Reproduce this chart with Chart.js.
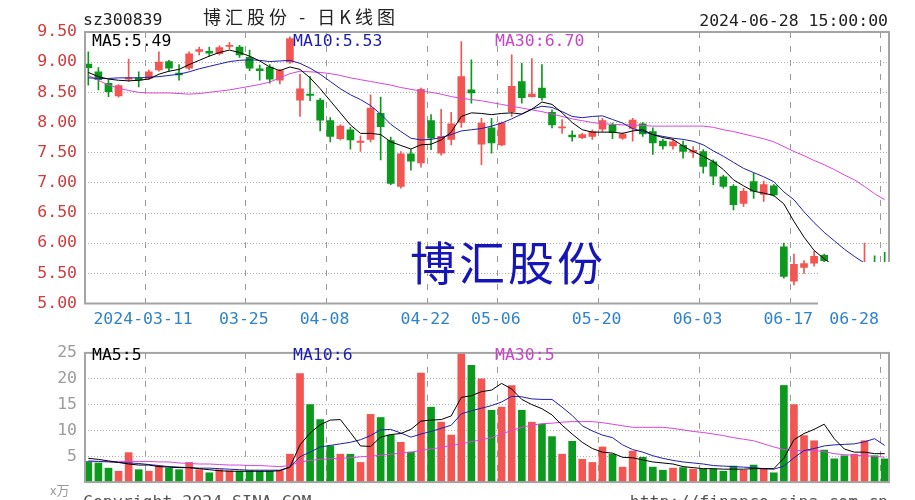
<!DOCTYPE html>
<html>
<head>
<meta charset="utf-8">
<title>sz300839 博汇股份 日K线图</title>
<script src="https://cdn.jsdelivr.net/npm/chart.js@4.4.1/dist/chart.umd.min.js"></script>
<style>
  body { margin: 0; background: #fff; }
  #wrap { position: relative; width: 915px; height: 500px; overflow: hidden; background: #fff; }
  canvas { position: absolute; left: 0; }
  .t { position: absolute; white-space: nowrap; font-family: "DejaVu Sans Mono", monospace; font-size: 16.5px; line-height: 1; }
</style>
</head>
<body>
<div id="wrap">
  <canvas id="kline" width="915" height="335" style="top:0"></canvas>
  <canvas id="vol" width="915" height="165" style="top:335px"></canvas>

  <div class="t" style="left:83px;top:12px;color:#222">sz300839</div>
  <div class="t" style="left:203px;top:7px;font-family:'Noto Sans CJK SC';font-size:18px;letter-spacing:4px;color:#222">博汇股份 - 日K线图</div>
  <div class="t" style="right:27px;top:13px;color:#222">2024-06-28 15:00:00</div>

  <div class="t" style="left:92px;top:33px;color:#000">MA5:5.49</div>
  <div class="t" style="left:293px;top:33px;color:#1e1eb4">MA10:5.53</div>
  <div class="t" style="left:495px;top:33px;color:#c846c8">MA30:6.70</div>

  <div class="t" style="left:410px;top:237px;font-family:'Noto Sans CJK SC';font-size:46px;letter-spacing:3px;color:#1515b8">博汇股份</div>
  <!-- white patch that sits over the lower right corner of the price panel in the original -->
  <div style="position:absolute;left:818px;top:262px;width:80px;height:46px;background:#fff"></div>

  <div class="t" style="left:92px;top:347px;color:#000">MA5:5</div>
  <div class="t" style="left:293px;top:347px;color:#1e1eb4">MA10:6</div>
  <div class="t" style="left:495px;top:347px;color:#c846c8">MA30:5</div>
  <div class="t" style="left:50px;top:483px;font-family:'Noto Sans CJK SC';font-size:13px;color:#999">x万</div>

  <div class="t" style="left:83px;top:494px;color:#555">Copyright 2024 SINA.COM</div>
  <div class="t" style="right:27px;top:494px;color:#555">http://finance.sina.com.cn</div>
</div>

<script>
// trading days shown on the chart
const dates = [
  "2024-03-01","2024-03-04","2024-03-05","2024-03-06","2024-03-07","2024-03-08",
  "2024-03-11","2024-03-12","2024-03-13","2024-03-14","2024-03-15",
  "2024-03-18","2024-03-19","2024-03-20","2024-03-21","2024-03-22",
  "2024-03-25","2024-03-26","2024-03-27","2024-03-28","2024-03-29",
  "2024-04-01","2024-04-02","2024-04-03",
  "2024-04-08","2024-04-09","2024-04-10","2024-04-11","2024-04-12",
  "2024-04-15","2024-04-16","2024-04-17","2024-04-18","2024-04-19",
  "2024-04-22","2024-04-23","2024-04-24","2024-04-25","2024-04-26",
  "2024-04-29","2024-04-30",
  "2024-05-06","2024-05-07","2024-05-08","2024-05-09","2024-05-10",
  "2024-05-13","2024-05-14","2024-05-15","2024-05-16","2024-05-17",
  "2024-05-20","2024-05-21","2024-05-22","2024-05-23","2024-05-24",
  "2024-05-27","2024-05-28","2024-05-29","2024-05-30","2024-05-31",
  "2024-06-03","2024-06-04","2024-06-05","2024-06-06","2024-06-07",
  "2024-06-11","2024-06-12","2024-06-13","2024-06-14",
  "2024-06-17","2024-06-18","2024-06-19","2024-06-20","2024-06-21",
  "2024-06-24","2024-06-25","2024-06-26","2024-06-27","2024-06-28"
];

const openP = [8.97,8.84,8.65,8.44,8.72,8.74,8.73,8.87,9.01,8.82, 8.90,9.18,9.18,9.14,9.26,9.25,9.08,8.89,8.92,8.70,
  9.00,8.37,8.47,8.37,8.03,7.73,7.88,7.67,7.72,8.15, 7.70,6.94,7.48,7.33,8.03,7.49,7.72,8.00,8.54,7.64,
  7.91,7.63,8.18,8.68,8.43,8.57,8.17,7.91,7.79,7.75, 7.77,7.89,7.96,7.74,7.90,7.98,7.85,7.69,7.61,7.62,
  7.51,7.52,7.35,7.10,6.94,6.66,7.02,6.81,6.95,5.94, 5.37,5.60,5.67,5.80,5.64,5.57,5.45,5.50,5.58,5.55];
const highP = [9.17,8.91,8.71,8.63,9.05,8.84,8.87,9.17,9.03,8.96, 9.17,9.25,9.25,9.27,9.33,9.28,9.20,8.95,8.96,8.88,
  9.42,8.80,8.76,8.40,8.08,7.96,7.92,7.78,8.46,8.42, 7.76,7.52,7.55,8.57,8.13,8.22,8.17,9.34,9.04,8.07,
  8.07,8.01,9.12,8.98,9.06,8.96,8.21,8.05,7.86,7.82, 7.88,8.07,7.99,7.83,8.07,8.00,7.91,7.72,7.72,7.69,
  7.60,7.55,7.38,7.13,6.97,6.91,7.16,7.03,6.97,6.00, 5.82,5.71,5.87,5.82,5.65,5.60,5.56,6.00,5.79,5.85];
const lowP = [8.62,8.54,8.43,8.42,8.68,8.59,8.71,8.85,8.85,8.70, 8.87,9.12,9.10,9.12,9.22,9.08,8.86,8.70,8.65,8.64,
  8.98,8.10,8.36,7.86,7.68,7.71,7.56,7.52,7.68,7.38, 6.97,6.91,7.21,7.26,7.55,7.46,7.63,7.92,8.32,7.30,
  7.49,7.61,8.10,8.32,8.42,8.37,7.91,7.82,7.69,7.73, 7.72,7.85,7.73,7.72,7.69,7.77,7.47,7.56,7.56,7.41,
  7.42,7.16,6.97,6.91,6.55,6.61,6.74,6.69,6.78,5.42, 5.31,5.50,5.62,5.69,5.50,5.42,5.40,5.46,5.46,5.45];
const closeP = [8.91,8.71,8.51,8.61,8.74,8.70,8.84,9.00,8.90,8.79, 9.14,9.21,9.15,9.24,9.28,9.12,8.90,8.86,8.72,8.86,
  9.39,8.56,8.45,8.04,7.77,7.94,7.71,7.69,8.24,7.93, 6.99,7.48,7.36,8.55,7.74,7.77,7.98,8.76,8.49,7.99,
  7.66,7.99,8.60,8.41,8.47,8.41,7.96,7.93,7.76,7.80, 7.85,8.03,7.83,7.81,8.04,7.81,7.66,7.61,7.68,7.52,
  7.54,7.27,7.11,6.94,6.64,6.86,6.86,6.97,6.80,5.45, 5.65,5.66,5.78,5.71,5.55,5.47,5.52,5.55,5.50,5.49];

const ma5 = [8.83,8.76,8.72,8.70,8.69,8.70,8.72,8.80,8.85,8.88, 8.96,9.03,9.10,9.16,9.20,9.16,9.10,9.02,8.92,8.86,
  8.92,8.88,8.74,8.56,8.36,8.16,7.96,7.82,7.82,7.80, 7.68,7.62,7.56,7.63,7.64,7.71,7.84,8.10,8.16,8.15,
  8.13,8.15,8.16,8.14,8.22,8.34,8.30,8.16,8.00,7.88, 7.84,7.84,7.84,7.82,7.86,7.88,7.80,7.75,7.72,7.61,
  7.52,7.44,7.35,7.22,7.05,6.95,6.86,6.83,6.79,6.65, 6.36,6.10,5.88,5.74,5.62,5.58,5.54,5.52,5.50,5.49];
const ma10 = [8.74,8.73,8.73,8.74,8.74,8.74,8.75,8.76,8.78,8.80, 8.84,8.89,8.93,8.97,9.01,9.03,9.04,9.03,9.01,9.02,
  9.03,8.98,8.90,8.80,8.68,8.56,8.46,8.38,8.28,8.14, 7.97,7.85,7.74,7.71,7.72,7.75,7.80,7.86,7.88,7.90,
  7.94,7.99,8.06,8.14,8.22,8.27,8.25,8.18,8.10,8.08, 8.10,8.11,8.05,7.99,7.90,7.85,7.80,7.77,7.74,7.72,
  7.69,7.63,7.53,7.44,7.34,7.24,7.17,7.10,7.02,6.85, 6.72,6.52,6.34,6.18,6.04,5.90,5.78,5.67,5.59,5.53];
const ma30 = [8.78,8.70,8.62,8.57,8.53,8.50,8.49,8.49,8.49,8.48, 8.47,8.48,8.50,8.52,8.54,8.57,8.60,8.63,8.67,8.74,
  8.81,8.85,8.84,8.83,8.81,8.78,8.74,8.71,8.68,8.65, 8.62,8.58,8.55,8.52,8.50,8.47,8.43,8.40,8.38,8.36,
  8.33,8.30,8.27,8.24,8.21,8.18,8.14,8.10,8.06,8.03, 8.00,7.98,7.97,7.96,7.96,7.95,7.94,7.94,7.94,7.94,
  7.94,7.94,7.92,7.88,7.85,7.81,7.77,7.73,7.68,7.60, 7.52,7.45,7.37,7.30,7.22,7.13,7.05,6.94,6.82,6.72];

// volume, in 万 (10k)
const vol = [4.0,3.7,2.7,2.1,5.7,2.4,2.1,3.1,2.7,2.4, 3.8,2.4,1.8,2.4,2.2,2.1,2.2,2.1,2.1,2.2,
  5.4,21.0,15.0,12.1,7.0,5.4,5.4,3.8,13.1,12.5, 9.1,7.7,5.8,21.1,14.5,11.6,9.1,25.7,22.6,20.0,
  13.9,14.5,18.7,13.9,11.6,11.2,8.8,5.4,7.9,4.4, 3.8,6.8,5.4,2.9,6.0,4.8,2.9,2.3,2.7,2.8,
  2.5,2.5,2.5,2.1,3.1,2.3,3.3,2.5,1.8,18.7, 15.0,9.0,8.0,6.2,4.5,5.1,5.4,8.0,5.1,4.5];
const vma5 = [4.6,4.4,4.1,3.8,3.5,3.3,3.3,3.0,2.9,2.8, 2.8,2.6,2.4,2.2,2.1,2.1,2.1,2.1,2.1,2.2,
  2.9,7.2,9.5,11.1,12.0,12.1,9.6,7.0,6.9,8.7, 9.2,9.4,10.2,11.8,12.0,12.1,12.8,16.4,16.7,17.5,
  17.8,19.1,18.0,16.0,15.0,14.2,13.0,11.0,9.3,7.7, 6.5,5.8,5.6,4.8,4.7,4.3,3.9,3.7,3.5,3.0,
  2.8,2.6,2.6,2.5,2.5,2.5,2.6,2.6,2.6,4.6, 8.2,9.4,10.2,11.2,8.4,6.4,5.8,5.8,5.5,5.5];
const vma10 = [4.1,4.0,3.9,3.8,3.7,3.6,3.4,3.2,3.0,2.9, 2.8,2.7,2.7,2.6,2.5,2.4,2.3,2.3,2.3,2.3,
  2.9,4.9,5.8,6.8,7.1,7.4,7.7,8.2,9.0,10.1, 10.2,9.5,8.7,9.3,9.8,10.4,11.0,13.2,13.8,14.3,
  14.8,15.5,16.6,16.5,16.1,16.0,16.0,14.5,12.9,10.9, 9.9,9.1,8.6,7.2,6.3,5.8,5.1,4.6,4.2,3.9,
  3.7,3.5,3.2,3.1,3.0,2.9,2.8,2.6,2.5,3.1, 4.7,6.1,6.5,7.0,7.2,7.3,7.4,7.8,8.4,7.1];
const vma30 = [3.9,4.0,4.0,4.0,4.0,4.0,4.0,3.9,3.9,3.7, 3.6,3.5,3.5,3.4,3.3,3.3,3.2,3.2,3.1,3.0,
  3.2,3.9,4.2,4.4,4.5,4.6,4.7,4.9,5.0,5.2, 5.4,5.6,5.8,6.1,6.4,6.7,7.1,7.4,7.8,8.2,
  8.6,9.3,10.0,10.6,11.0,11.3,11.4,11.6,11.7,11.7, 11.7,11.5,11.2,10.9,10.6,10.6,10.6,10.6,10.4,10.1,
  9.8,9.6,9.3,9.0,8.6,8.3,8.0,7.4,6.8,6.3, 6.1,6.1,6.1,5.9,5.5,5.3,5.2,5.1,5.0,4.8];

// date ticks on the x axis
const xTickDates = ["2024-03-11","2024-03-25","2024-04-08","2024-04-22","2024-05-06","2024-05-20","2024-06-03","2024-06-17","2024-06-28"];
const xTickLabels = ["2024-03-11","03-25","04-08","04-22","05-06","05-20","06-03","06-17","06-28"];

const RED = '#f25552';
const GREEN = '#0c9a1e';
const GRID_SHIFT = -0.37; // date lines sit slightly left of the candle centre
const tickIdx = xTickDates.map(d => dates.indexOf(d));
const mono = { family: 'DejaVu Sans Mono', size: 16.5 };

const upDown = closeP.map((c, i) => c >= openP[i] ? RED : GREEN);
const xy = arr => arr.map((v, i) => ({ x: i, y: v }));

const frame = {
  id: 'frame',
  afterDraw(chart) {
    const { ctx, chartArea: a } = chart;
    ctx.save();
    ctx.strokeStyle = '#a4a4a4';
    ctx.lineWidth = 2;
    ctx.strokeRect(a.left, a.top, a.right - a.left, a.bottom - a.top);
    ctx.restore();
  }
};

function xScale(height, showLabels) {
  return {
    type: 'linear',
    min: -0.33,
    max: 79.43,
    offset: false,
    afterBuildTicks: s => { s.ticks = tickIdx.map(i => ({ value: i + GRID_SHIFT })); },
    afterFit: s => {
      s.height = height;
      // keep the plot box fixed, labels may hang past it
      s.paddingLeft = 0;
      s.paddingRight = 0;
    },
    ticks: {
      display: showLabels, autoSkip: false, maxRotation: 0, padding: 6, labelOffset: -2,
      color: '#2e83c9', font: mono,
      // the last date is pulled back inside the panel, as on the original
      callback: (v, i) => i === xTickLabels.length - 1 ? xTickLabels[i] + '     ' : xTickLabels[i]
    },
    grid: { offset: false, drawTicks: false, color: '#9a9a9a', lineWidth: 1 },
    border: { display: false, dash: [6, 8] }
  };
}

function maLine(arr, color, order) {
  return { type: 'line', data: xy(arr), borderColor: color, borderWidth: 1, pointRadius: 0, fill: false, tension: 0, order: order };
}

Chart.defaults.font.family = 'DejaVu Sans Mono';

new Chart(document.getElementById('kline'), {
  type: 'bar',
  data: {
    datasets: [
      maLine(ma5, '#000000', 0),
      maLine(ma10, '#1e1eb4', 1),
      maLine(ma30, '#dd44dd', 2),
      { data: dates.map((d, i) => ({ x: i, y: [openP[i], closeP[i]] })), backgroundColor: upDown,
        barThickness: 7, minBarLength: 1, grouped: false, borderWidth: 0, order: 3 },
      { data: dates.map((d, i) => ({ x: i, y: [lowP[i], highP[i]] })), backgroundColor: upDown,
        barThickness: 1, grouped: false, borderWidth: 0, order: 4 }
    ]
  },
  options: {
    responsive: false,
    animation: false,
    devicePixelRatio: 1,
    layout: { padding: { top: 32, right: 26, left: 0, bottom: 0 } },
    plugins: { legend: { display: false }, tooltip: { enabled: false } },
    scales: {
      x: xScale(31.5, true),
      y: {
        min: 5, max: 9.5,
        afterFit: s => { s.width = 85; },
        ticks: { stepSize: 0.5, padding: 8, color: '#d23c3c', font: mono, callback: v => v.toFixed(2) },
        grid: { drawTicks: false, color: c => (c.tick.value <= 5 || c.tick.value >= 9.5) ? 'rgba(0,0,0,0)' : '#b0b0b0' },
        border: { display: false, dash: [1, 2] }
      }
    }
  },
  plugins: [frame]
});

new Chart(document.getElementById('vol'), {
  type: 'bar',
  data: {
    datasets: [
      maLine(vma5, '#000000', 0),
      maLine(vma10, '#1e1eb4', 1),
      maLine(vma30, '#dd44dd', 2),
      { data: xy(vol), backgroundColor: upDown, barThickness: 7, grouped: false, borderWidth: 0, order: 3 }
    ]
  },
  options: {
    responsive: false,
    animation: false,
    devicePixelRatio: 1,
    layout: { padding: { top: 10.5, right: 26, left: 0, bottom: 0 } },
    plugins: { legend: { display: false }, tooltip: { enabled: false } },
    scales: {
      x: xScale(10.5, false),
      y: {
        min: 0, max: 25,
        afterFit: s => { s.width = 85; },
        ticks: { stepSize: 5, padding: 8, color: '#9c9c9c', font: mono, callback: v => v === 0 ? '' : v },
        grid: { drawTicks: false, color: c => (c.tick.value <= 0 || c.tick.value >= 25) ? 'rgba(0,0,0,0)' : '#b0b0b0' },
        border: { display: false, dash: [1, 2] }
      }
    }
  },
  plugins: [frame]
});
</script>
</body>
</html>
